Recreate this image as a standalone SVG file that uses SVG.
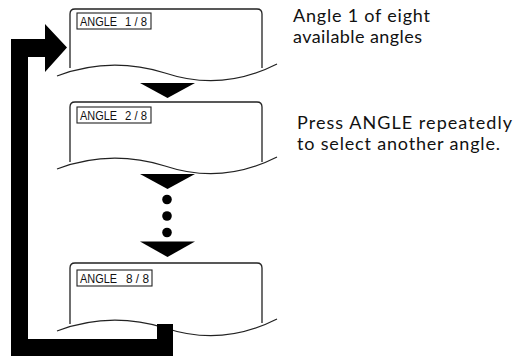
<svg xmlns="http://www.w3.org/2000/svg" width="516" height="356" viewBox="0 0 516 356">
<style>
.frame{fill:none;stroke:#222;stroke-width:1.3}
.wave{fill:none;stroke:#222;stroke-width:1.2}
.lbl{fill:#fff;stroke:#222;stroke-width:1.1}
.lt{font-family:"Liberation Sans",Arial,sans-serif;font-size:12.5px;fill:#111}
.note{font-family:Lato,"Noto Sans",sans-serif;font-size:18px;fill:#111}
.blk{fill:#000;stroke:none}
</style>
<g id="screen1">
<path class="frame" d="M70,68 L70,14 Q70,9 75,9 L257,9 Q262,9 262,14 L262,68"/>
<path class="wave" d="M57,76 Q110,56 165,73 Q222,92 277,64"/>
<rect class="lbl" x="77" y="13" width="74" height="16"/>
<text class="lt" x="80" y="26" textLength="37" lengthAdjust="spacingAndGlyphs">ANGLE</text>
<text class="lt" x="125" y="26" textLength="22" lengthAdjust="spacingAndGlyphs">1 / 8</text>
</g>
<g id="screen2">
<path class="frame" d="M70,162 L70,107 Q70,102 75,102 L257,102 Q262,102 262,107 L262,162"/>
<path class="wave" d="M57,169 Q110,149 165,166 Q222,185 277,157"/>
<rect class="lbl" x="77" y="107" width="74" height="16"/>
<text class="lt" x="80" y="120" textLength="37" lengthAdjust="spacingAndGlyphs">ANGLE</text>
<text class="lt" x="125" y="120" textLength="22" lengthAdjust="spacingAndGlyphs">2 / 8</text>
</g>
<g id="screen3">
<path class="frame" d="M70,324 L70,268 Q70,263 75,263 L257,263 Q262,263 262,268 L262,323"/>
<path class="wave" d="M57,331 Q110,311 165,328 Q222,347 277,319"/>
<rect class="lbl" x="77" y="270" width="75" height="16"/>
<text class="lt" x="80" y="283" textLength="37" lengthAdjust="spacingAndGlyphs">ANGLE</text>
<text class="lt" x="126" y="283" textLength="23" lengthAdjust="spacingAndGlyphs">8 / 8</text>
</g>
<g id="connectors">
<polygon class="blk" points="140,83 195,83 167.5,98"/>
<polygon class="blk" points="140,174 195,174 167.5,189"/>
<circle class="blk" cx="167" cy="199.5" r="4.8"/>
<circle class="blk" cx="167" cy="216" r="4.8"/>
<circle class="blk" cx="167" cy="232.5" r="4.8"/>
<polygon class="blk" points="140,241.5 195,241.5 167.5,257"/>
<polygon class="blk" points="173,356 173,324 157,324 157,339 28,339 28,57 45,57 45,72 67,47.5 45,24 45,39 11,39 11,356"/>
</g>
<g id="note1">
<text class="note" x="293" y="22" textLength="137">Angle 1 of eight</text>
<text class="note" x="293" y="43" textLength="129">available angles</text>
</g>
<g id="note2">
<text class="note" x="297" y="129" textLength="215">Press ANGLE repeatedly</text>
<text class="note" x="297" y="150" textLength="203">to select another angle.</text>
</g>
</svg>
